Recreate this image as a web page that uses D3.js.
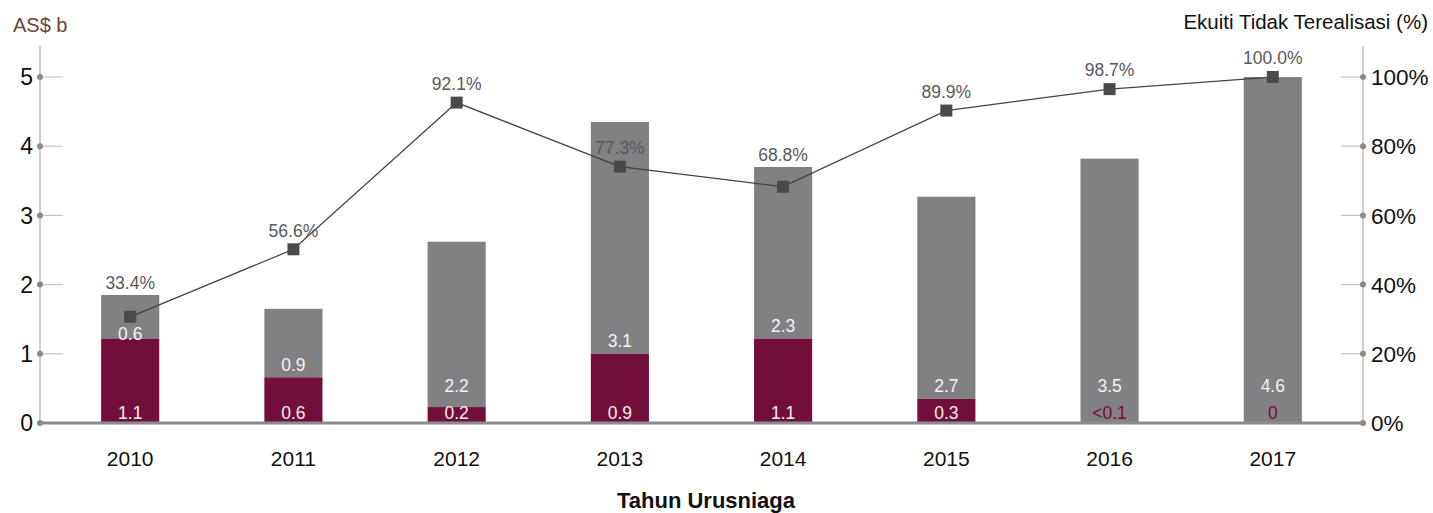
<!DOCTYPE html>
<html>
<head>
<meta charset="utf-8">
<script src="https://cdn.jsdelivr.net/npm/d3@7/dist/d3.min.js"></script>
<style>
  html, body { margin: 0; padding: 0; background: #fff; }
  svg { display: block; font-family: "Liberation Sans", Arial, sans-serif; }
</style>
</head>
<body>
<svg id="chart" width="1433" height="513"></svg>
<script>
// ---------- DATA ----------
const years = ["2010", "2011", "2012", "2013", "2014", "2015", "2016", "2017"];
// realised portion (maroon, bottom) in AS$ b
const realisedValues = [1.22, 0.66, 0.23, 1.0, 1.22, 0.35, 0.0, 0.0];
// unrealised portion (grey, top) in AS$ b
const unrealisedValues = [0.63, 0.99, 2.39, 3.35, 2.48, 2.92, 3.82, 5.0];
const realisedLabels = ["1.1", "0.6", "0.2", "0.9", "1.1", "0.3", "<0.1", "0"];
const unrealisedLabels = ["0.6", "0.9", "2.2", "3.1", "2.3", "2.7", "3.5", "4.6"];
// unrealised equity share (%) line
const pctValues = [30.7, 50.2, 92.6, 74.1, 68.3, 90.3, 96.5, 100.0];
const pctLabels = ["33.4%", "56.6%", "92.1%", "77.3%", "68.8%", "89.9%", "98.7%", "100.0%"];
const leftTicks = [0, 1, 2, 3, 4, 5];
const rightTicks = [0, 20, 40, 60, 80, 100];

// ---------- LAYOUT ----------
const axL = 40, axR = 1363, yZero = 423, yTop = 77, axTop = 46;
const svg = d3.select("#chart");

const x = d3.scaleBand().domain(years).range([axL, axR])
  .paddingInner(0.644).paddingOuter(0.3746);
const yL = d3.scaleLinear().domain([0, 5]).range([yZero, yTop]);
const yR = d3.scaleLinear().domain([0, 100]).range([yZero, yTop]);

const maroon = "#720e3a", grey = "#818184", markerCol = "#4a4a4c";

// axis vertical lines
svg.append("line").attr("x1", axL).attr("x2", axL).attr("y1", axTop).attr("y2", yZero)
  .attr("stroke", "#bdbdbd").attr("stroke-width", 1.5);
svg.append("line").attr("x1", axR).attr("x2", axR).attr("y1", axTop).attr("y2", yZero)
  .attr("stroke", "#bdbdbd").attr("stroke-width", 1.5);

// left ticks
const lt = svg.append("g").selectAll("g").data(leftTicks).join("g")
  .attr("transform", d => `translate(0,${yL(d)})`);
lt.filter(d => d > 0).append("line").attr("x1", axL).attr("x2", axL + 23)
  .attr("stroke", "#c4c4c4").attr("stroke-width", 1.2);
lt.append("text").attr("x", axL - 7).attr("dy", "0.36em").attr("text-anchor", "end")
  .attr("font-size", 23).attr("fill", "#111").text(d => d);

// right ticks
const rt = svg.append("g").selectAll("g").data(rightTicks).join("g")
  .attr("transform", d => `translate(0,${yR(d)})`);
rt.filter(d => d > 0).append("line").attr("x1", axR - 22).attr("x2", axR)
  .attr("stroke", "#c4c4c4").attr("stroke-width", 1.2);
rt.append("text").attr("x", axR + 8).attr("dy", "0.36em").attr("text-anchor", "start")
  .attr("font-size", 22.5).attr("fill", "#111").text(d => d + "%");

// bars
const bars = svg.append("g");
years.forEach((yr, i) => {
  const r = realisedValues[i], u = unrealisedValues[i];
  bars.append("rect").attr("x", x(yr)).attr("width", x.bandwidth())
    .attr("y", yL(r + u)).attr("height", yL(r) - yL(r + u)).attr("fill", grey);
  if (r > 0) {
    bars.append("rect").attr("x", x(yr)).attr("width", x.bandwidth())
      .attr("y", yL(r)).attr("height", yL(0) - yL(r)).attr("fill", maroon);
  }
});

// baseline
svg.append("line").attr("x1", axL).attr("x2", axR).attr("y1", yZero).attr("y2", yZero)
  .attr("stroke", "#8c8c8e").attr("stroke-width", 3);

// tick dots
lt.append("circle").attr("cx", axL).attr("r", 3).attr("fill", "#8a8a8c");
rt.append("circle").attr("cx", axR).attr("r", 3).attr("fill", "#8a8a8c");

// bar labels
const cx = yr => x(yr) + x.bandwidth() / 2;
years.forEach((yr, i) => {
  const r = realisedValues[i], u = unrealisedValues[i];
  svg.append("text").attr("x", cx(yr)).attr("y", yZero - 10).attr("dy", "0.36em")
    .attr("text-anchor", "middle").attr("font-size", 17.5)
    .attr("fill", r >= 0.1 ? "#f4eef0" : maroon).text(realisedLabels[i]);
  let gy = Math.min(yL(r) - 13, yZero - 37);
  const my = yR(pctValues[i]);
  if (Math.abs(gy - my) < 15) gy = my + 17;
  svg.append("text").attr("x", cx(yr)).attr("y", gy).attr("dy", "0.36em")
    .attr("text-anchor", "middle").attr("font-size", 17.5)
    .attr("fill", "#f4f4f4").text(unrealisedLabels[i]);
});

// line
const line = d3.line().x((d, i) => cx(years[i])).y(d => yR(d));
svg.append("path").datum(pctValues).attr("d", line)
  .attr("fill", "none").attr("stroke", "#444446").attr("stroke-width", 1.3);
svg.append("g").selectAll("rect").data(pctValues).join("rect")
  .attr("x", (d, i) => cx(years[i]) - 6).attr("y", d => yR(d) - 6)
  .attr("width", 12).attr("height", 12).attr("fill", markerCol);

// percent labels
pctValues.forEach((p, i) => {
  const top = yL(realisedValues[i] + unrealisedValues[i]);
  let ly = yR(p) - 19;
  if (Math.abs(ly - top) < 10) ly = top - 12;
  svg.append("text").attr("x", cx(years[i])).attr("y", ly).attr("dy", "0.36em")
    .attr("text-anchor", "middle").attr("font-size", 17.5)
    .attr("fill", "#58595b").text(pctLabels[i]);
});

// x labels
svg.append("g").selectAll("text").data(years).join("text")
  .attr("x", d => cx(d)).attr("y", 458).attr("dy", "0.36em")
  .attr("text-anchor", "middle").attr("font-size", 21).attr("fill", "#111").text(d => d);

// titles
svg.append("text").attr("x", 13).attr("y", 25).attr("dy", "0.36em")
  .attr("font-size", 20).attr("fill", "#6b4535").text("AS$ b");
svg.append("text").attr("x", 1428).attr("y", 22).attr("dy", "0.36em")
  .attr("text-anchor", "end").attr("font-size", 20.5).attr("fill", "#111")
  .text("Ekuiti Tidak Terealisasi (%)");
svg.append("text").attr("x", 706).attr("y", 500).attr("dy", "0.36em")
  .attr("text-anchor", "middle").attr("font-size", 22).attr("font-weight", "bold")
  .attr("fill", "#111").text("Tahun Urusniaga");
</script>
</body>
</html>
